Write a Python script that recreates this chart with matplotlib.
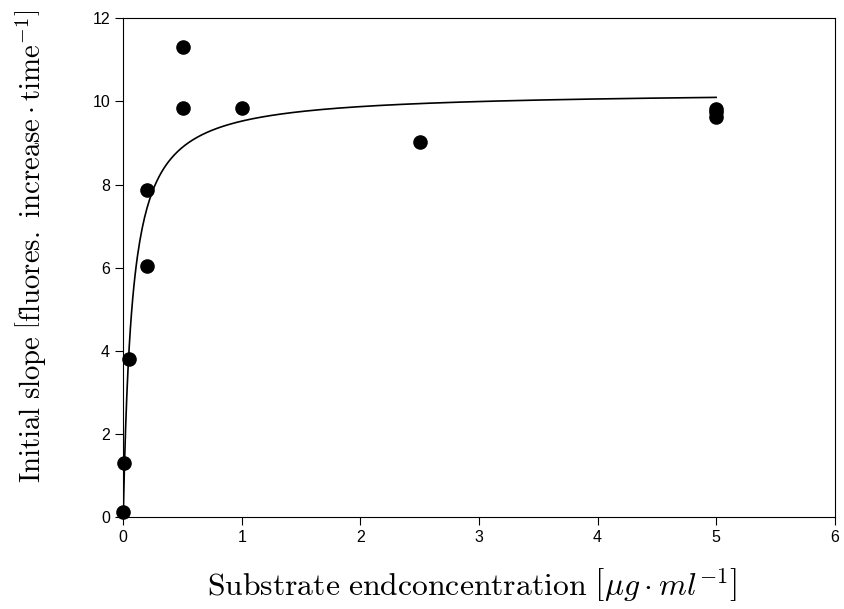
import numpy as np
import matplotlib
matplotlib.use('Agg')
import matplotlib.pyplot as plt

plt.rcParams['mathtext.fontset'] = 'cm'
plt.rcParams['font.family'] = ['Liberation Sans', 'DejaVu Sans']

# measured points
conc = [0.0, 0.01, 0.05, 0.2, 0.2, 0.5, 0.5, 1.0, 2.5, 5.0, 5.0, 5.0]
slope = [0.12, 1.3, 3.8, 7.87, 6.05, 11.3, 9.85, 9.83, 9.02, 9.82, 9.74, 9.63]

# Michaelis-Menten fit parameters
vmax = 10.25
km = 0.076

fig = plt.figure(figsize=(8.44, 6.09), dpi=100)
ax = fig.add_axes([0.146, 0.151, 0.843, 0.819])

xfit = np.linspace(0, 5, 500)
ax.plot(xfit, vmax * xfit / (km + xfit), color='black', lw=1.2)
ax.scatter(conc, slope, s=90, color='black', zorder=3, clip_on=False)

ax.set_xlim(0, 6)
ax.set_ylim(0, 12)
ax.set_xticks(range(0, 7))
ax.set_yticks(range(0, 13, 2))
ax.tick_params(direction='out', length=6, labelsize=11.5)

ax.set_xlabel(r'$\mathrm{Substrate\ endconcentration}\ \left[\mu g\cdot ml^{-1}\right]$', fontsize=22.8)
ax.set_ylabel(r'$\mathrm{Initial\ slope}\ \left[\mathrm{fluores.\ increase}\cdot\mathrm{time}^{-1}\right]$', fontsize=20.7)
ax.xaxis.set_label_coords(0.49, -0.1)
ax.yaxis.set_label_coords(-0.104, 0.543)

fig.savefig('out.png', dpi=100)
